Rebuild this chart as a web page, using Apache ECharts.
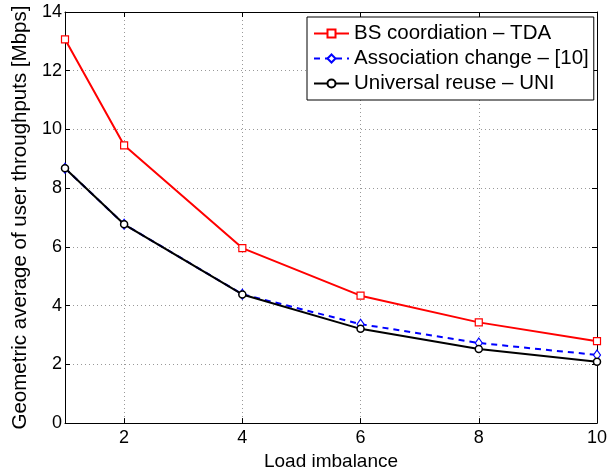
<!DOCTYPE html>
<html>
<head>
<meta charset="utf-8">
<script src="https://cdn.jsdelivr.net/npm/echarts@6/dist/echarts.min.js"></script>
<style>
html,body{margin:0;padding:0;background:#fff;}
#c{width:613px;height:476px;}
</style>
</head>
<body>
<div id="c"></div>
<script>
var xValues = [1, 2, 4, 6, 8, 10];
var xTicks = [2, 4, 6, 8, 10];
var seriesNames = ['BS coordiation \u2013 TDA', 'Association change \u2013 [10]', 'Universal reuse \u2013 UNI'];
var tdaValues = [13.07, 9.46, 5.96, 4.34, 3.43, 2.79];
var assocValues = [8.68, 6.77, 4.39, 3.37, 2.73, 2.32];
var uniValues = [8.68, 6.77, 4.38, 3.21, 2.52, 2.09];

function pairs(vals) { return xValues.map(function (x, i) { return [x, vals[i]]; }); }

var FONT = '"Liberation Sans", Arial, Helvetica, sans-serif';
var chart = echarts.init(document.getElementById('c'), null, {renderer: 'canvas'});
var axisLineStyle = {color: '#000', width: 1};
chart.setOption({
  animation: false,
  backgroundColor: '#fff',
  textStyle: {fontFamily: FONT},
  grid: {left: 65, right: 16, top: 12, bottom: 44, containLabel: false},
  legend: {
    orient: 'vertical',
    left: 307, top: 17,
    padding: [5, 5, 5, 6],
    itemGap: 2,
    itemWidth: 35, itemHeight: 10,
    borderColor: '#000', borderWidth: 1, backgroundColor: '#fff',
    textStyle: {fontFamily: FONT, fontSize: 20.5, color: '#000', lineHeight: 23},
    data: seriesNames
  },
  xAxis: [{
    type: 'value', min: 1, max: 10, position: 'bottom',
    name: 'Load imbalance', nameLocation: 'middle', nameGap: 24,
    nameTextStyle: {fontFamily: FONT, fontSize: 19, color: '#000'},
    axisLine: {show: true, onZero: false, lineStyle: axisLineStyle},
    axisTick: {show: true, inside: true, length: 5, customValues: xTicks, lineStyle: axisLineStyle},
    axisLabel: {customValues: xTicks, fontFamily: FONT, fontSize: 18, color: '#000', margin: 6},
    splitLine: {show: true, customValues: xTicks, lineStyle: {color: '#999', type: [1, 3], width: 1}}
  }, {
    type: 'value', min: 1, max: 10, position: 'top',
    axisLine: {show: true, onZero: false, lineStyle: axisLineStyle},
    axisTick: {show: true, inside: true, length: 5, customValues: xTicks, lineStyle: axisLineStyle},
    axisLabel: {show: false},
    splitLine: {show: false}
  }],
  yAxis: [{
    type: 'value', min: 0, max: 14, interval: 2, position: 'left',
    name: 'Geometric average of user throughputs [Mbps]', nameLocation: 'middle', nameGap: 28,
    nameTextStyle: {fontFamily: FONT, fontSize: 20.5, color: '#000'},
    axisLine: {show: true, onZero: false, lineStyle: axisLineStyle},
    axisTick: {show: true, inside: true, length: 5, lineStyle: axisLineStyle},
    axisLabel: {fontFamily: FONT, fontSize: 18, color: '#000', margin: 3},
    splitLine: {show: true, lineStyle: {color: '#999', type: [1, 3], width: 1}}
  }, {
    type: 'value', min: 0, max: 14, interval: 2, position: 'right',
    axisLine: {show: true, onZero: false, lineStyle: axisLineStyle},
    axisTick: {show: true, inside: true, length: 5, lineStyle: axisLineStyle},
    axisLabel: {show: false},
    splitLine: {show: false}
  }],
  series: [{
    name: seriesNames[0], type: 'line', data: pairs(tdaValues),
    symbol: 'rect', symbolSize: 7,
    itemStyle: {color: '#fff', borderColor: '#ff0000', borderWidth: 1.2},
    lineStyle: {color: '#ff0000', width: 2}
  }, {
    name: seriesNames[1], type: 'line', data: pairs(assocValues),
    symbol: 'diamond', symbolSize: [7, 10],
    itemStyle: {color: '#fff', borderColor: '#0000ff', borderWidth: 1.2},
    lineStyle: {color: '#0000ff', width: 2, type: [6, 5]}
  }, {
    name: seriesNames[2], type: 'line', data: pairs(uniValues),
    symbol: 'circle', symbolSize: 7,
    itemStyle: {color: '#fff', borderColor: '#000', borderWidth: 1.5},
    lineStyle: {color: '#000', width: 2}
  }]
});
</script>
</body>
</html>
